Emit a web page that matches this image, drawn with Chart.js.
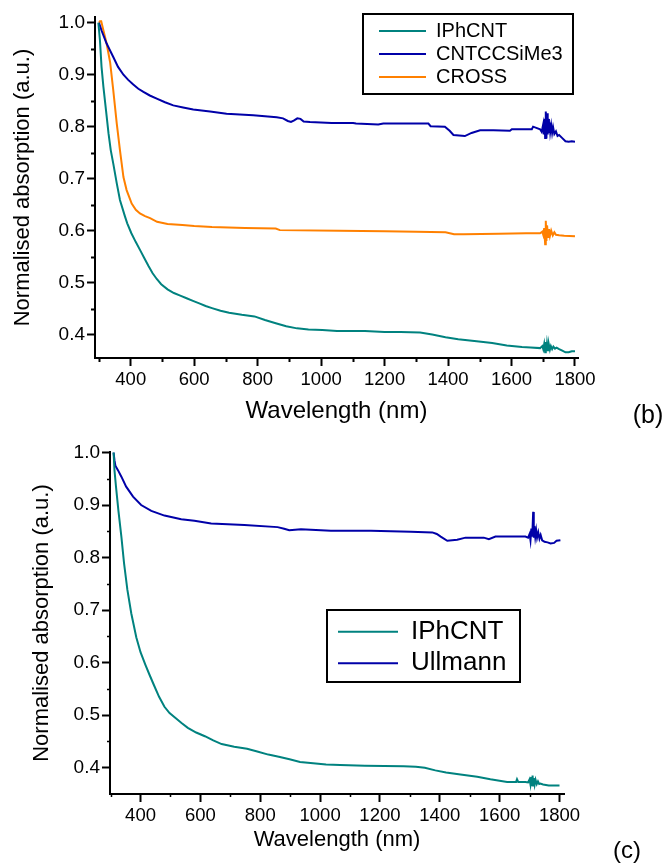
<!DOCTYPE html>
<html>
<head>
<meta charset="utf-8">
<script src="https://cdn.jsdelivr.net/npm/chart.js@4/dist/chart.umd.min.js"></script>
<style>
html,body{margin:0;padding:0;background:#fff;}
#c1{position:absolute;left:0;top:0;}
#c2{position:absolute;left:0;top:430px;}
</style>
</head>
<body>
<canvas id="c1" width="664" height="430"></canvas>
<canvas id="c2" width="664" height="433"></canvas>
<script>
// ---------- Panel (b) data ----------
const b_IPhCNT_wl = [298,303,308,314,322,330,337,345,356,366,382,389,402,416,430,443,456,469,482,496,516,536,556,576,596,616,636,656,683,710,750,790,823,857,890,924,960,1004,1050,1138,1200,1250,1312,1350,1392,1432,1490,1539,1585,1633,1660,1690,1697,1700,1703,1706,1708,1710,1712,1715,1718,1721,1724,1728,1732,1737,1742,1750,1760,1770,1780,1790,1800];
const b_IPhCNT_abs = [1.0,0.966,0.915,0.876,0.832,0.787,0.755,0.729,0.691,0.659,0.627,0.614,0.595,0.578,0.562,0.547,0.532,0.518,0.507,0.497,0.487,0.480,0.475,0.470,0.465,0.460,0.455,0.451,0.446,0.442,0.438,0.435,0.428,0.422,0.416,0.412,0.410,0.409,0.407,0.407,0.405,0.405,0.404,0.400,0.395,0.391,0.387,0.384,0.379,0.376,0.375,0.374,0.378,0.372,0.382,0.366,0.386,0.368,0.383,0.370,0.380,0.371,0.378,0.372,0.377,0.373,0.375,0.372,0.369,0.366,0.366,0.368,0.368];

const b_CNTCCSiMe3_wl = [300,308,324,345,360,377,392,408,424,440,460,482,508,534,565,597,650,702,786,860,880,895,905,915,925,935,945,965,1033,1101,1110,1180,1196,1238,1338,1345,1390,1405,1417,1453,1474,1501,1543,1595,1601,1664,1668,1690,1695,1700,1702,1704,1706,1708,1710,1712,1714,1716,1718,1720,1722,1725,1728,1731,1735,1740,1745,1750,1760,1770,1780,1790,1800];
const b_CNTCCSiMe3_abs = [1.0,0.985,0.96,0.934,0.915,0.90,0.89,0.881,0.873,0.867,0.86,0.854,0.847,0.841,0.837,0.833,0.829,0.825,0.822,0.818,0.816,0.811,0.809,0.812,0.816,0.815,0.810,0.809,0.807,0.807,0.806,0.804,0.806,0.806,0.806,0.801,0.800,0.792,0.784,0.782,0.788,0.793,0.793,0.792,0.795,0.795,0.800,0.795,0.790,0.805,0.785,0.815,0.778,0.829,0.777,0.826,0.785,0.815,0.788,0.808,0.790,0.803,0.788,0.799,0.786,0.791,0.782,0.784,0.778,0.772,0.771,0.772,0.771];

const b_CROSS_wl = [300,303,307,314,324,335,345,356,366,377,387,403,416,429,445,461,483,516,563,600,656,760,857,870,1058,1200,1300,1392,1419,1450,1560,1646,1690,1697,1700,1703,1706,1708,1710,1712,1715,1718,1721,1725,1730,1735,1740,1750,1766,1800];
const b_CROSS_abs = [1.0,1.003,1.003,0.985,0.96,0.924,0.87,0.806,0.755,0.703,0.678,0.652,0.640,0.633,0.628,0.624,0.617,0.613,0.611,0.609,0.607,0.605,0.604,0.601,0.600,0.599,0.598,0.597,0.593,0.593,0.594,0.595,0.595,0.598,0.592,0.605,0.574,0.619,0.580,0.610,0.588,0.603,0.590,0.600,0.591,0.597,0.592,0.591,0.590,0.589];

// ---------- Panel (c) data ----------
const c_IPhCNT_wl = [310,313,318,326,336,345,356,369,386,400,417,430,445,462,480,497,516,537,558,586,615,643,671,713,756,790,827,862,898,933,968,1020,1067,1150,1279,1320,1350,1385,1421,1469,1525,1569,1625,1655,1658,1662,1686,1695,1700,1703,1706,1708,1710,1712,1714,1717,1720,1724,1728,1732,1736,1745,1764,1800];
const c_IPhCNT_abs = [1.0,0.966,0.935,0.890,0.840,0.789,0.739,0.694,0.648,0.620,0.595,0.577,0.557,0.535,0.516,0.504,0.495,0.485,0.476,0.467,0.460,0.452,0.445,0.440,0.436,0.431,0.425,0.421,0.416,0.411,0.409,0.406,0.405,0.404,0.403,0.402,0.400,0.395,0.391,0.387,0.383,0.378,0.373,0.373,0.378,0.373,0.373,0.372,0.378,0.368,0.382,0.365,0.385,0.366,0.380,0.368,0.377,0.369,0.374,0.369,0.370,0.368,0.366,0.366];

const c_Ullmann_wl = [310,313,316,325,336,352,375,402,436,480,536,580,636,747,858,880,897,936,1036,1170,1303,1375,1390,1403,1425,1458,1486,1547,1564,1586,1686,1695,1700,1703,1706,1709,1712,1714,1716,1719,1722,1725,1729,1733,1737,1742,1750,1760,1770,1782,1790,1803];
const c_Ullmann_abs = [1.0,0.985,0.975,0.966,0.954,0.935,0.916,0.900,0.889,0.880,0.873,0.870,0.865,0.862,0.858,0.855,0.852,0.854,0.851,0.851,0.849,0.848,0.845,0.840,0.832,0.834,0.838,0.838,0.835,0.840,0.840,0.838,0.845,0.833,0.855,0.840,0.887,0.838,0.860,0.840,0.852,0.838,0.848,0.836,0.843,0.833,0.830,0.829,0.827,0.828,0.832,0.833];

// ---------- Ticks ----------
const xMajorTicks = [400,600,800,1000,1200,1400,1600,1800];
const xMinorTicks = [300,500,700,900,1100,1300,1500,1700];
const yMajorTicks = [0.4,0.5,0.6,0.7,0.8,0.9,1.0];
const yMinorTicks = [0.45,0.55,0.65,0.75,0.85,0.95];

const xTitle = 'Wavelength (nm)';
const yTitle = 'Normalised absorption (a.u.)';

const TEAL = '#00827f', NAVY = '#0000a8', ORANGE = '#ff8000';
const FONT = "'Liberation Sans', Arial, Helvetica, sans-serif";

Chart.defaults.font.family = FONT;
Chart.defaults.color = '#000';

const pts = (xs, ys) => xs.map((x, i) => ({x: x, y: ys[i]}));

const decor = {
  id: 'decor',
  beforeDraw(chart, args, o) {
    const lg = chart.legend;
    if (lg && o.legendAt) {
      const b = o.legendAt;
      lg.left = b.left; lg.top = b.top; lg.right = b.right; lg.bottom = b.bottom;
      lg.width = b.right - b.left; lg.height = b.bottom - b.top;
    }
  },
  afterDraw(chart, args, o) {
    const ctx = chart.ctx;
    const xs = chart.scales.x, ys = chart.scales.y;
    ctx.save();
    ctx.strokeStyle = '#000';
    ctx.lineWidth = o.minorWidth;
    ctx.beginPath();
    xMinorTicks.forEach(v => {
      const p = Math.round(xs.getPixelForValue(v)) + 0.5;
      ctx.moveTo(p, xs.top); ctx.lineTo(p, xs.top + o.minorLen);
    });
    yMinorTicks.forEach(v => {
      const p = Math.round(ys.getPixelForValue(v)) + 0.5;
      ctx.moveTo(ys.right, p); ctx.lineTo(ys.right - o.minorLen, p);
    });
    ctx.stroke();
    const f = o.frame;
    ctx.lineWidth = 2;
    ctx.strokeRect(f.left, f.top, f.right - f.left, f.bottom - f.top);
    ctx.fillStyle = '#000';
    ctx.font = o.labelSize + 'px ' + FONT;
    ctx.textAlign = 'center';
    ctx.textBaseline = 'middle';
    ctx.fillText(o.label, o.labelX, o.labelY);
    ctx.restore();
  }
};

function makeChart(id, cfg) {
  return new Chart(document.getElementById(id), {
    type: 'line',
    data: {datasets: cfg.datasets.map(d => ({
      label: d.label, data: d.data, borderColor: d.color, backgroundColor: d.color,
      borderWidth: 2, pointRadius: 0, tension: 0, fill: false
    }))},
    options: {
      responsive: false, animation: false, devicePixelRatio: 1,
      layout: {padding: cfg.padding},
      plugins: {
        title: {display: false},
        tooltip: {enabled: false},
        legend: {
          display: true, position: 'chartArea', align: 'start',
          labels: {
            usePointStyle: true, pointStyle: 'line', pointStyleWidth: cfg.legendLine,
            font: {size: cfg.legendFont, family: FONT}, color: '#000', padding: cfg.legendPad
          }
        },
        decor: cfg.decor
      },
      scales: {
        x: {
          type: 'linear', min: cfg.xmin, max: cfg.xmax,
          afterBuildTicks: s => { s.ticks = xMajorTicks.map(v => ({value: v})); },
          afterFit: s => { s.height = cfg.xAxisH; },
          ticks: {autoSkip: false, maxRotation: 0, padding: 3, font: {size: 18.5}, color: '#000',
                  callback: v => String(v)},
          grid: {display: true, drawOnChartArea: false, drawTicks: true, tickLength: 8,
                 tickWidth: 2, tickColor: '#000'},
          border: {display: true, color: '#000', width: 2},
          title: {display: true, text: xTitle, color: '#000', font: {size: cfg.xTitleFont},
                  padding: {top: 0, bottom: cfg.xTitlePad}}
        },
        y: {
          type: 'linear', min: cfg.ymin, max: cfg.ymax,
          afterBuildTicks: s => { s.ticks = yMajorTicks.map(v => ({value: v})); },
          afterFit: s => { s.width = cfg.yAxisW; },
          ticks: {padding: 2, font: {size: 19}, color: '#000', callback: v => Number(v).toFixed(1)},
          grid: {display: true, drawOnChartArea: false, drawTicks: true, tickLength: 8,
                 tickWidth: 2, tickColor: '#000'},
          border: {display: true, color: '#000', width: 2},
          title: {display: true, text: yTitle, color: '#000', font: {size: 22},
                  padding: {top: cfg.yTitlePad, bottom: 0}}
        }
      }
    },
    plugins: [decor]
  });
}

makeChart('c1', {
  datasets: [
    {label: 'IPhCNT', data: pts(b_IPhCNT_wl, b_IPhCNT_abs), color: TEAL},
    {label: 'CNTCCSiMe3', data: pts(b_CNTCCSiMe3_wl, b_CNTCCSiMe3_abs), color: NAVY},
    {label: 'CROSS', data: pts(b_CROSS_wl, b_CROSS_abs), color: ORANGE}
  ],
  padding: {left: 0, top: 17, right: 86, bottom: 0},
  xmin: 287.4, xmax: 1809.5, ymin: 0.355, ymax: 1.011,
  xAxisH: 72, yAxisW: 95, xTitleFont: 24, xTitlePad: 4, yTitlePad: 10,
  legendFont: 20, legendPad: 3, legendLine: 47,
  decor: {
    legendAt: {left: 376, top: 18, right: 573, bottom: 94},
    frame: {left: 363, top: 14, right: 573, bottom: 94},
    minorLen: 4, minorWidth: 2,
    label: '(b)', labelX: 648, labelY: 416, labelSize: 25
  }
});

makeChart('c2', {
  datasets: [
    {label: 'IPhCNT', data: pts(c_IPhCNT_wl, c_IPhCNT_abs), color: TEAL},
    {label: 'Ullmann', data: pts(c_Ullmann_wl, c_Ullmann_abs), color: NAVY}
  ],
  padding: {left: 0, top: 22, right: 100, bottom: 0},
  xmin: 298, xmax: 1815, ymin: 0.35, ymax: 1.001,
  xAxisH: 69, yAxisW: 110, xTitleFont: 22, xTitlePad: 10, yTitlePad: 29,
  legendFont: 26, legendPad: 5.6, legendLine: 60,
  decor: {
    legendAt: {left: 332.4, top: 183.1, right: 520, bottom: 252},
    frame: {left: 327, top: 180, right: 520, bottom: 252},
    minorLen: 3, minorWidth: 1.5,
    label: '(c)', labelX: 627, labelY: 421, labelSize: 24
  }
});
</script>
</body>
</html>
